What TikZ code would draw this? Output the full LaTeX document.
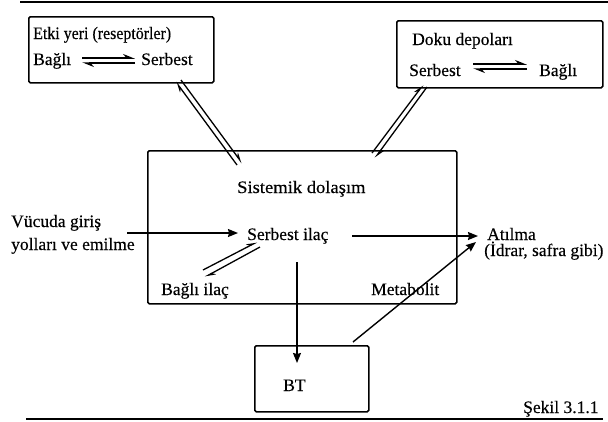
\documentclass[tikz,border=0pt]{standalone}
\usepackage{fontspec}
\setmainfont{Liberation Serif}
\newfontfamily\tnr{Liberation Serif}[FakeBold=0.3]
\usetikzlibrary{arrows.meta}
\begin{document}
\begin{tikzpicture}[x=1pt,y=-1pt,
  box/.style={draw, line width=1.5pt, rounded corners=1.5pt, anchor=north west, inner sep=0pt},
  lbl/.style={anchor=base west, inner sep=0pt, font=\tnr\fontsize{17.5}{20}\selectfont},
  conn/.style={line width=1.4pt, -{Stealth[length=10pt,width=8pt,inset=1pt]}},
  dbl/.style={line width=1.3pt, -{Stealth[length=9pt,width=6pt,harpoon]}},
  hp/.style={line width=1.5pt, -{Stealth[length=10pt,width=8pt,harpoon]}},
  rule/.style={line width=2pt}]
\useasboundingbox (0,0) rectangle (608,421);
% rules
\coordinate (t1) at (20,2); \coordinate (t2) at (608,2);
\coordinate (b1) at (26,419); \coordinate (b2) at (603,419);
\draw[rule] (t1) -- (t2);
\draw[rule] (b1) -- (b2);
% boxes
\node[box, minimum width=185pt, minimum height=66pt] (etki) at (28,16) {};
\node[box, minimum width=206pt, minimum height=67pt] (doku) at (396,20) {};
\node[box, line width=1.5pt, minimum width=309pt, minimum height=153pt] (sis) at (147,150) {};
\node[box, minimum width=114pt, minimum height=66pt] (bt) at (254,345) {};
% texts
\node[lbl] (etkit) at (33,39) {\scalebox{0.91}[1]{Etki yeri (reseptörler)}};
\node[lbl] (eb) at (33,65) {Bağlı};
\node[lbl] (es) at (141,65) {Serbest};
\node[lbl] (dokut) at (412,45) {Doku depoları};
\node[lbl] (ds) at (409,76) {Serbest};
\node[lbl] (db) at (539,76) {Bağlı};
\node[lbl] (sist) at (237,193) {\scalebox{1.06}[1]{Sistemik dolaşım}};
\node[lbl] (giris1) at (11,227) {Vücuda giriş};
\node[lbl] (giris2) at (11,250) {yolları ve emilme};
\node[lbl] (serb) at (247,240) {Serbest ilaç};
\node[lbl] (atil) at (487,240) {Atılma};
\node[lbl] (idrar) at (484,256) {(İdrar, safra gibi)};
\node[lbl] (bagli) at (161,295) {Bağlı ilaç};
\node[lbl] (meta) at (371,295) {Metabolit};
\node[lbl] (btt) at (283,391) {BT};
\node[lbl] (sekil) at (523,413) {Şekil 3.1.1};
% harpoons in boxes
\coordinate (e1) at (82,58); \coordinate (e2) at (135,58);
\coordinate (e3) at (135,63); \coordinate (e4) at (82,63);
\draw[hp] (e1) -- (e2);
\draw[hp] (e3) -- (e4);
\coordinate (d1) at (473,64); \coordinate (d2) at (527,64);
\coordinate (d3) at (527,69); \coordinate (d4) at (473,69);
\draw[hp] (d1) -- (d2);
\draw[hp] (d3) -- (d4);
% double arrows to boxes
\coordinate (a1) at (237,165); \coordinate (a2) at (176,82);
\coordinate (a3) at (181,80); \coordinate (a4) at (242,163);
\draw[dbl] (a1) -- (a2);
\draw[dbl] (a3) -- (a4);
\coordinate (c1) at (372,153); \coordinate (c2) at (423,85);
\coordinate (c3) at (427,87); \coordinate (c4) at (375,158);
\draw[dbl] (c1) -- (c2);
\draw[dbl] (c3) -- (c4);
% serbest - bagli
\coordinate (s1) at (203,270); \coordinate (s2) at (257,242);
\coordinate (s3) at (260,247); \coordinate (s4) at (205,277);
\draw[dbl] (s1) -- (s2);
\draw[dbl] (s3) -- (s4);
% main arrows
\coordinate (in1) at (127,233); \coordinate (in2) at (238,233);
\draw[conn] (in1) -- (in2);
\coordinate (o1) at (352,236); \coordinate (o2) at (478,236);
\draw[conn] (o1) -- (o2);
\coordinate (v1) at (297,262); \coordinate (v2) at (297,363);
\draw[conn] (v1) -- (v2);
\coordinate (m1) at (353,342); \coordinate (m2) at (476,242);
\draw[conn] (m1) -- (m2);
\end{tikzpicture}
\end{document}
